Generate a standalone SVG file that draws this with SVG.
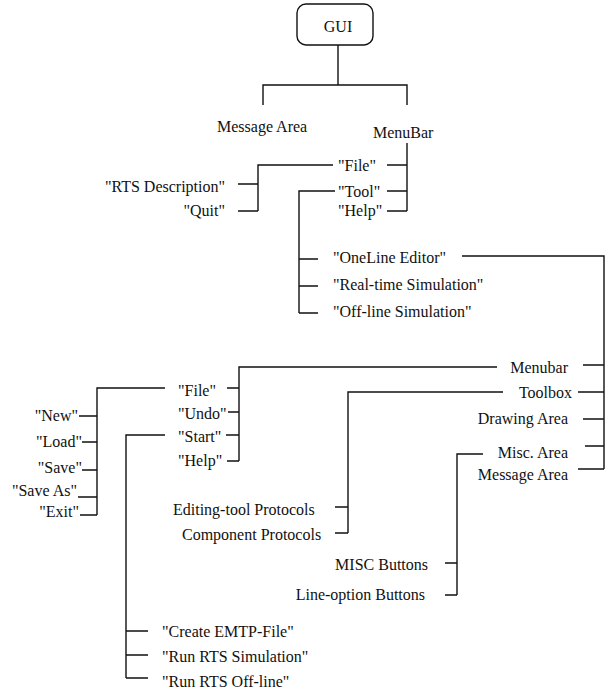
<svg xmlns="http://www.w3.org/2000/svg" width="613" height="696" viewBox="0 0 613 696">
<style>
text{font-family:"Liberation Serif","Times New Roman",serif;font-size:16px;fill:#111}
.e{text-anchor:end}
.c{text-anchor:middle}
#connectors path{fill:none;stroke:#111;stroke-width:1.4}
.box{fill:#fff;stroke:#111;stroke-width:1.4}
</style>
<rect width="613" height="696" fill="#fff"/>
<g id="connectors">
<path d="M338,45 V85"/>
<path d="M263,105 V85 H407 V105"/>
<path d="M407,143 V211"/>
<path d="M387,165 H407 M387,191 H407 M387,211 H407"/>
<path d="M333,165 H258 V211 M238,184 H258 M238,211 H258"/>
<path d="M335,191 H299 V313 M299,259 H318 M299,286 H318 M299,313 H318"/>
<path d="M462,256 H604 V469 M583,365 H604 M578,392 H604 M583,419 H604 M585,446 H604 M578,469 H604"/>
<path d="M497,367 H239 V461 M227,388 H239 M228,412 H239 M226,435 H239 M227,461 H239"/>
<path d="M165,388 H97 V515 M79,416 H97 M82,442 H97 M82,470 H97 M78,497 H97 M80,515 H97"/>
<path d="M165,435 H126 V678 M126,631 H148 M126,655 H148 M126,678 H148"/>
<path d="M503,392 H348 V533 M335,507 H348 M335,533 H348"/>
<path d="M483,454 H457 V595 M445,563 H457 M445,595 H457"/>
</g>
<g id="gui"><rect class="box" x="297" y="4" width="76" height="41" rx="9"/><text class="c" x="338" y="32">GUI</text></g>
<g id="message-area-top"><text x="217" y="132">Message Area</text></g>
<g id="menubar-top"><text x="373" y="138">MenuBar</text></g>
<g id="file-top"><text x="338" y="171">"File"</text></g>
<g id="tool-top"><text x="338" y="197">"Tool"</text></g>
<g id="help-top"><text x="338" y="216">"Help"</text></g>
<g id="rts-description"><text class="e" x="225" y="192">"RTS Description"</text></g>
<g id="quit"><text class="e" x="225" y="216">"Quit"</text></g>
<g id="oneline-editor"><text x="333" y="263">"OneLine Editor"</text></g>
<g id="realtime-sim"><text x="333" y="290">"Real-time Simulation"</text></g>
<g id="offline-sim"><text x="333" y="317">"Off-line Simulation"</text></g>
<g id="menubar"><text class="e" x="568" y="373">Menubar</text></g>
<g id="toolbox"><text class="e" x="572" y="398">Toolbox</text></g>
<g id="drawing-area"><text class="e" x="568" y="424">Drawing Area</text></g>
<g id="misc-area"><text class="e" x="568" y="458">Misc. Area</text></g>
<g id="message-area"><text class="e" x="568" y="480">Message Area</text></g>
<g id="file"><text x="178" y="396">"File"</text></g>
<g id="undo"><text x="178" y="419">"Undo"</text></g>
<g id="start"><text x="178" y="442">"Start"</text></g>
<g id="help"><text x="178" y="466">"Help"</text></g>
<g id="new"><text class="e" x="78" y="421">"New"</text></g>
<g id="load"><text class="e" x="82" y="447">"Load"</text></g>
<g id="save"><text class="e" x="82" y="473">"Save"</text></g>
<g id="save-as"><text class="e" x="77" y="496">"Save As"</text></g>
<g id="exit"><text class="e" x="79" y="517">"Exit"</text></g>
<g id="editing-tool-protocols"><text x="173" y="515">Editing-tool Protocols</text></g>
<g id="component-protocols"><text x="182" y="540">Component Protocols</text></g>
<g id="misc-buttons"><text class="e" x="428" y="570">MISC Buttons</text></g>
<g id="line-option-buttons"><text class="e" x="425" y="600">Line-option Buttons</text></g>
<g id="create-emtp"><text x="162" y="637">"Create EMTP-File"</text></g>
<g id="run-rts-sim"><text x="162" y="662">"Run RTS Simulation"</text></g>
<g id="run-rts-offline"><text x="162" y="687">"Run RTS Off-line"</text></g>
</svg>
